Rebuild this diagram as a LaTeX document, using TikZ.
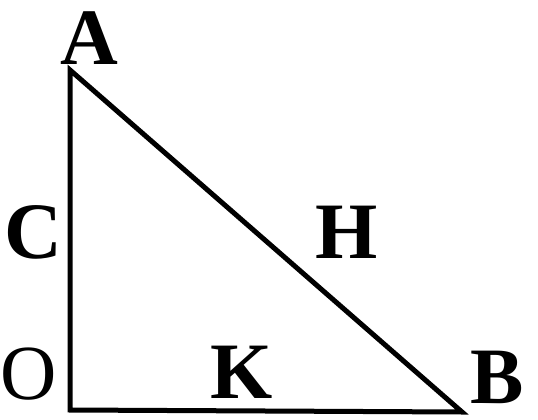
\documentclass[tikz,border=0pt]{standalone}
\usepackage{fontspec}
\setmainfont{Liberation Serif}
\begin{document}
\begin{tikzpicture}[x=1pt,y=-1pt,
  edge/.style={line width=5pt,line join=miter,line cap=butt},
  lbl/.style={inner sep=0pt,font=\fontsize{80}{80}\selectfont\bfseries}]
\useasboundingbox (0,0) rectangle (538,420);
\coordinate (A) at (70,70);
\coordinate (O) at (70,410);
\coordinate (B) at (462,412);
\draw[edge] (A) -- (O) -- (B) -- cycle;
\node[lbl] (la) at (89,38) {A};
\node[lbl] (lc) at (33,232) {C};
\node[lbl,font=\fontsize{78}{78}\selectfont] (lo) at (29,374) {O};
\node[lbl] (lk) at (242,372) {K};
\node[lbl] (lh) at (347,232) {H};
\node[lbl] (lb) at (497,377) {B};
\end{tikzpicture}
\end{document}
